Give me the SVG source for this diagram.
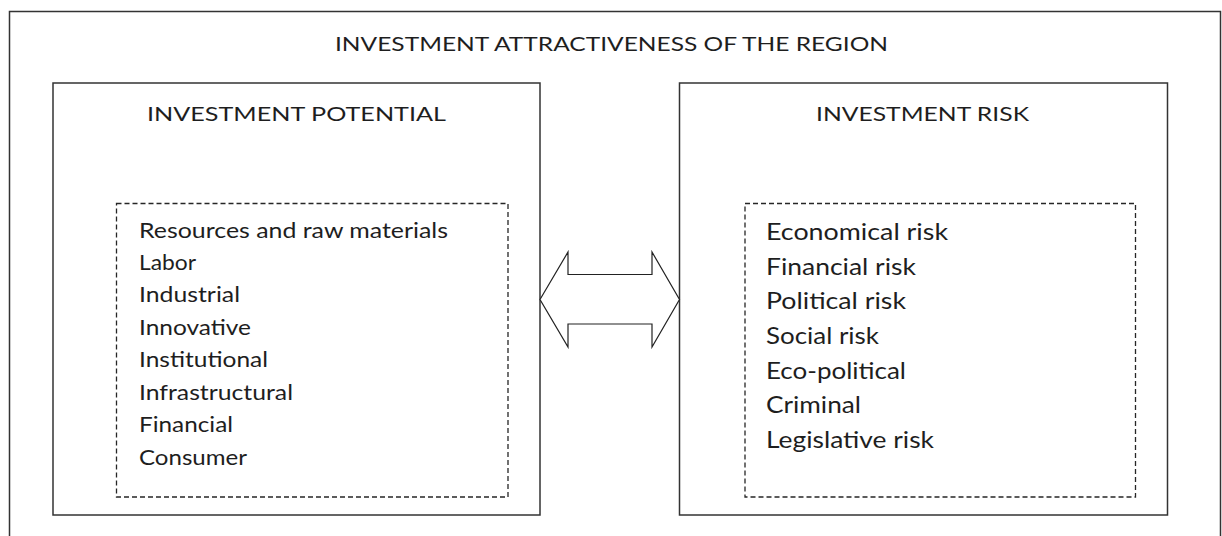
<svg xmlns="http://www.w3.org/2000/svg" width="1222" height="536" viewBox="0 0 1222 536">
  <style>
    .frame { fill: none; stroke: #333333; stroke-width: 1.5; }
    .dash { fill: none; stroke: #262626; stroke-width: 1.3; stroke-dasharray: 5 3; }
    .txt { font-family: Lato, "Open Sans", "Liberation Sans", sans-serif; fill: #1e1e1e; }
    .title { font-size: 20px; }
    .item { font-size: 20.5px; }
    .risk { font-size: 22.5px; }
    .arrow { fill: #ffffff; stroke: #222222; stroke-width: 1.2; stroke-linejoin: miter; }
  </style>
  <rect width="1222" height="536" fill="#ffffff"/>

  <!-- outer frame: the region as a whole -->
  <g id="region">
    <rect class="frame" x="9.5" y="11.5" width="1211" height="540"/>
    <text class="txt title" x="335" y="51" textLength="553" lengthAdjust="spacingAndGlyphs">INVESTMENT ATTRACTIVENESS OF THE REGION</text>
  </g>

  <!-- left block: potential -->
  <g id="potential">
    <rect class="frame" x="53" y="83" width="487" height="432"/>
    <text class="txt title" x="147" y="121" textLength="299" lengthAdjust="spacingAndGlyphs">INVESTMENT POTENTIAL</text>
    <rect class="dash" x="116.5" y="203.5" width="391.5" height="293.5"/>
    <g class="txt item">
      <text x="139" y="237.5" textLength="309" lengthAdjust="spacingAndGlyphs">Resources and raw materials</text>
      <text x="139" y="270" textLength="57" lengthAdjust="spacingAndGlyphs">Labor</text>
      <text x="139" y="302" textLength="101" lengthAdjust="spacingAndGlyphs">Industrial</text>
      <text x="139" y="334.5" textLength="112" lengthAdjust="spacingAndGlyphs">Innovative</text>
      <text x="139" y="367" textLength="129" lengthAdjust="spacingAndGlyphs">Institutional</text>
      <text x="139" y="399.5" textLength="154" lengthAdjust="spacingAndGlyphs">Infrastructural</text>
      <text x="139" y="432" textLength="94" lengthAdjust="spacingAndGlyphs">Financial</text>
      <text x="139" y="464.5" textLength="108" lengthAdjust="spacingAndGlyphs">Consumer</text>
    </g>
  </g>

  <!-- right block: risk -->
  <g id="risk">
    <rect class="frame" x="679.5" y="83" width="488" height="432"/>
    <text class="txt title" x="816" y="121" textLength="213" lengthAdjust="spacingAndGlyphs">INVESTMENT RISK</text>
    <rect class="dash" x="745" y="203.5" width="390.5" height="293.5"/>
    <g class="txt risk">
      <text x="766" y="240" textLength="182" lengthAdjust="spacingAndGlyphs">Economical risk</text>
      <text x="766" y="274.7" textLength="150" lengthAdjust="spacingAndGlyphs">Financial risk</text>
      <text x="766" y="309.3" textLength="140" lengthAdjust="spacingAndGlyphs">Political risk</text>
      <text x="766" y="344" textLength="113" lengthAdjust="spacingAndGlyphs">Social risk</text>
      <text x="766" y="378.7" textLength="140" lengthAdjust="spacingAndGlyphs">Eco-political</text>
      <text x="766" y="413.3" textLength="95" lengthAdjust="spacingAndGlyphs">Criminal</text>
      <text x="766" y="448" textLength="168" lengthAdjust="spacingAndGlyphs">Legislative risk</text>
    </g>
  </g>

  <!-- two-way block arrow between the blocks -->
  <g id="connectors">
    <polygon class="arrow" points="540,299.5 568,252 568,274.5 652,274.5 652,252 679.5,299.5 652,347 652,324 568,324 568,347"/>
  </g>
</svg>
